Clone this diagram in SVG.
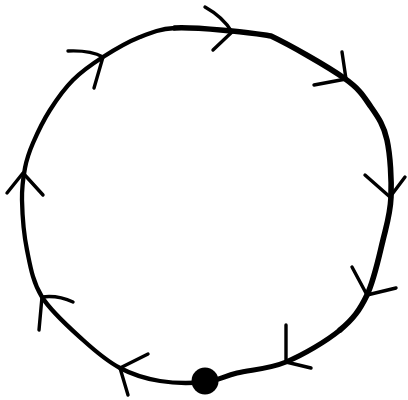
<svg xmlns="http://www.w3.org/2000/svg" width="408" height="400" viewBox="0 0 408 400">
<style>
.ln{fill:none;stroke:#000;stroke-linecap:round;stroke-linejoin:round}
.ar{fill:none;stroke:#000;stroke-width:3.4;stroke-linecap:round;stroke-linejoin:round}
</style>
<rect width="408" height="400" fill="#fff"/>
<g id="connectors">
<path class="ln" stroke-width="4.3" d="M205,382 C192.2,383.3 174.2,383.3 160,381 C145.8,378.7 132.8,374.8 120,368 C107.2,361.2 96,351.8 83,340 C70,328.2 51.3,312 42,297 C32.7,282 30.3,266.2 27,250 C23.7,233.8 22.3,213.7 22,200 C21.7,186.3 23.2,177.5 25,168 C26.8,158.5 28.8,152.7 33,143 C37.2,133.3 43.3,120.5 50,110 C56.7,99.5 64.2,88.8 73,80 C81.8,71.2 91.8,64.2 103,57 C114.2,49.8 128,41.8 140,37 C152,32.2 159.7,29 175,28"/>
<path class="ln" stroke-width="5.6" d="M175,28 C190.3,27 216,29.7 232,31 C248,32.3 258,34 271,36 C290,45 327.3,66.2 344,78 C360.7,89.8 363.8,96.7 371,107 C378.2,117.3 383.7,125 387,140 C390.3,155 391.7,180.3 391,197 C390.3,213.7 387,223.7 383,240 C379,256.3 374.2,280 367,295 C359.8,310 353.5,318.8 340,330"/>
<path class="ln" stroke-width="5" d="M340,330 C326.5,341.2 303.2,354.8 286,362 C268.8,369.2 250.5,369.7 237,373 C223.5,376.3 217.8,380.7 205,382"/>
<path class="ar" d="M68,51 Q90,50 103,57 L94,88"/>
<path class="ar" d="M205,7 Q223,17 232,32 L213,50"/>
<path class="ar" d="M342,52 L346,79 L314,85"/>
<path class="ar" d="M365,175 L390,197 L405,177"/>
<path class="ar" d="M352,267 L367,295 L396,288"/>
<path class="ar" d="M286,325 L286,362 L311,368"/>
<path class="ar" d="M148,354 L120,368 L128,395"/>
<path class="ar" d="M73,302 Q58,295 42,297 L39,330"/>
<path class="ar" d="M7,193 L23,173 L43,195"/>
</g>
<g id="start">
<circle cx="205" cy="381" r="13.5" fill="#000"/>
</g>
</svg>
